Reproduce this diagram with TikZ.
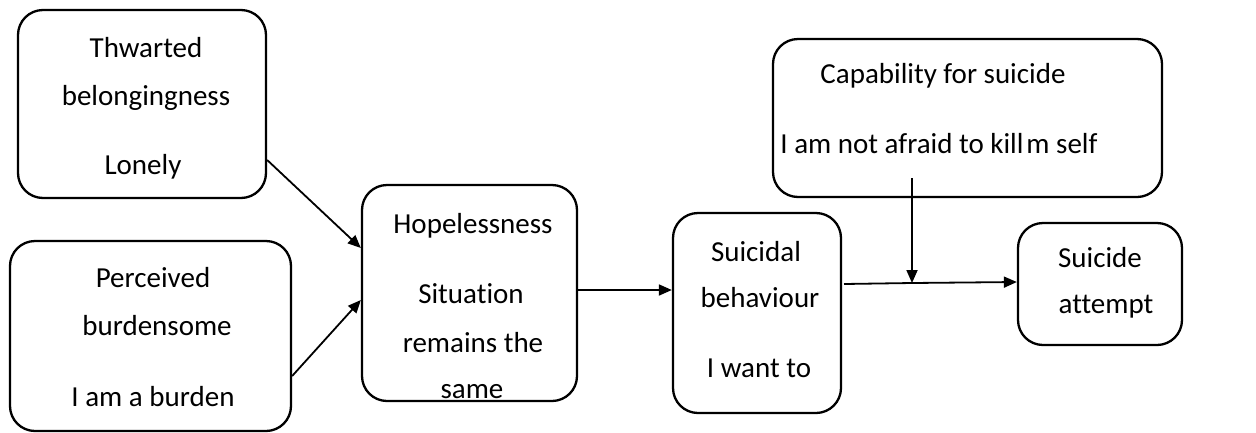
\documentclass[tikz,border=0pt]{standalone}
\usepackage{fontspec}
\setmainfont{Carlito}[Ligatures=NoCommon]
\usetikzlibrary{arrows.meta}
\begin{document}
\begin{tikzpicture}[x=1pt,y=-1pt,
  box/.style={draw, line width=2.3pt, rounded corners=25pt, inner sep=0pt},
  lbl/.style={anchor=base, inner sep=0pt, font=\fontsize{29}{35}\selectfont},
  conn/.style={line width=1.8pt, -{Triangle[length=13pt,width=11pt]}}]
\useasboundingbox (0,0) rectangle (1256,432);
% boxes
\node[box, minimum width=248pt, minimum height=188pt] (thw) at (142,104) {};
\node[box, minimum width=281pt, minimum height=190pt] (per) at (150.5,336) {};
\node[box, minimum width=215pt, minimum height=216pt] (hop) at (469.5,293) {};
\node[box, minimum width=168pt, minimum height=200pt] (sb) at (757,313) {};
\node[box, minimum width=389pt, minimum height=158pt] (cap) at (967.5,118) {};
\node[box, minimum width=164pt, minimum height=122pt] (sa) at (1100,284) {};
% texts
\node[lbl] (t1) at (146,57) {Thwarted};
\node[lbl] (t2) at (146,105) {belongingness};
\node[lbl] (t3) at (143,174) {Lonely};
\node[lbl] (p1) at (153,287) {Perceived};
\node[lbl] (p2) at (157,335) {burdensome};
\node[lbl] (p3) at (153,406) {I am a burden};
\node[lbl] (h1) at (473,233) {Hopelessness};
\node[lbl] (h2) at (471,303) {Situation};
\node[lbl] (h3) at (473,352) {remains the};
\node[lbl] (h4) at (472,398) {same};
\node[lbl] (s1) at (756,261) {Suicidal};
\node[lbl] (s2) at (760,307) {behaviour};
\node[lbl] (s3) at (759,377) {I want to};
\node[lbl] (c1) at (943,83) {Capability for suicide};
\node[lbl] (c2) at (939,153) {I am not afraid to kill\hspace{3pt}m self};
\node[lbl] (a1) at (1100,267) {Suicide};
\node[lbl] (a2) at (1106,313) {attempt};
% connectors
\draw[conn] (thw.east |- 0,160) -- (hop.west |- 0,248);
\draw[conn] (per.east |- 0,376) -- (hop.west |- 0,300);
\draw[conn] (hop.east |- 0,290) -- (sb.west |- 0,290);
\coordinate (jn) at (912,283);
\coordinate (vs) at (912,178);
\coordinate (hs) at (844,284);
\draw[line width=1.8pt] (hs) -- (jn);
\draw[conn] (jn) -- (sa.west |- 0,282);
\draw[conn] (vs) -- (jn);
\end{tikzpicture}
\end{document}
